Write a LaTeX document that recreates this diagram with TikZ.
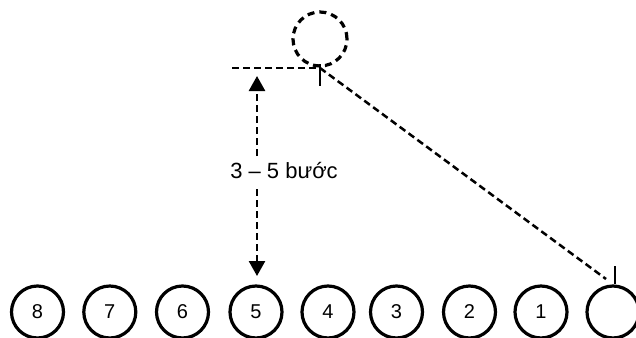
\documentclass[tikz,border=0pt]{standalone}
\usepackage{fontspec}
\setmainfont{Liberation Sans}
\usetikzlibrary{arrows.meta}
\begin{document}
\begin{tikzpicture}[x=1pt,y=-1pt,
  player/.style={circle,draw=black,line width=3.2pt,minimum size=52pt,inner sep=0pt,font=\fontsize{20}{20}\selectfont},
  dline/.style={line width=2.5pt,dash pattern=on 7pt off 4pt},
  tickline/.style={line width=2.8pt}]
\useasboundingbox (0,0) rectangle (636,337);
% row of players
\foreach \n/\x in {8/37.5,7/109.8,6/182.5,5/256,4/328,3/396.5,2/469.5,1/541}{
  \node[player] (c\n) at (\x,312) {\n};
}
\node[player] (c0) at (613,312) {};
% top (dashed) player
\node[circle,draw=black,line width=3.2pt,dash pattern=on 7pt off 5pt,minimum size=54pt,inner sep=0pt] (top) at (320,39) {};
% reference line and ticks
\coordinate (corner) at (320,68);
\coordinate (left) at (232,68);
\coordinate (tickb) at (320,86);
\coordinate (tickt) at (320,64);
\draw[dline] (left) -- (corner);
\draw[tickline] (tickt) -- (tickb);
\coordinate (diagE) at (606,279);
\coordinate (rtick) at (615,266);
\draw[dline] (corner) -- (diagE);
\draw[tickline] (rtick) -- (c0.north -| rtick);
% distance arrow and label
\node[font=\fontsize{22}{22}\selectfont,inner sep=0pt] (lbl) at (284,171) {3 – 5 bước};
\coordinate (a1) at (257,76);
\coordinate (a2) at (257,276);
\coordinate (l1) at (257,156);
\coordinate (l2) at (257,189);
\draw[dline,-{Triangle[length=15pt,width=16pt]}] (l1) -- (a1);
\draw[dline,-{Triangle[length=15pt,width=16pt]}] (l2) -- (a2);
\end{tikzpicture}
\end{document}
